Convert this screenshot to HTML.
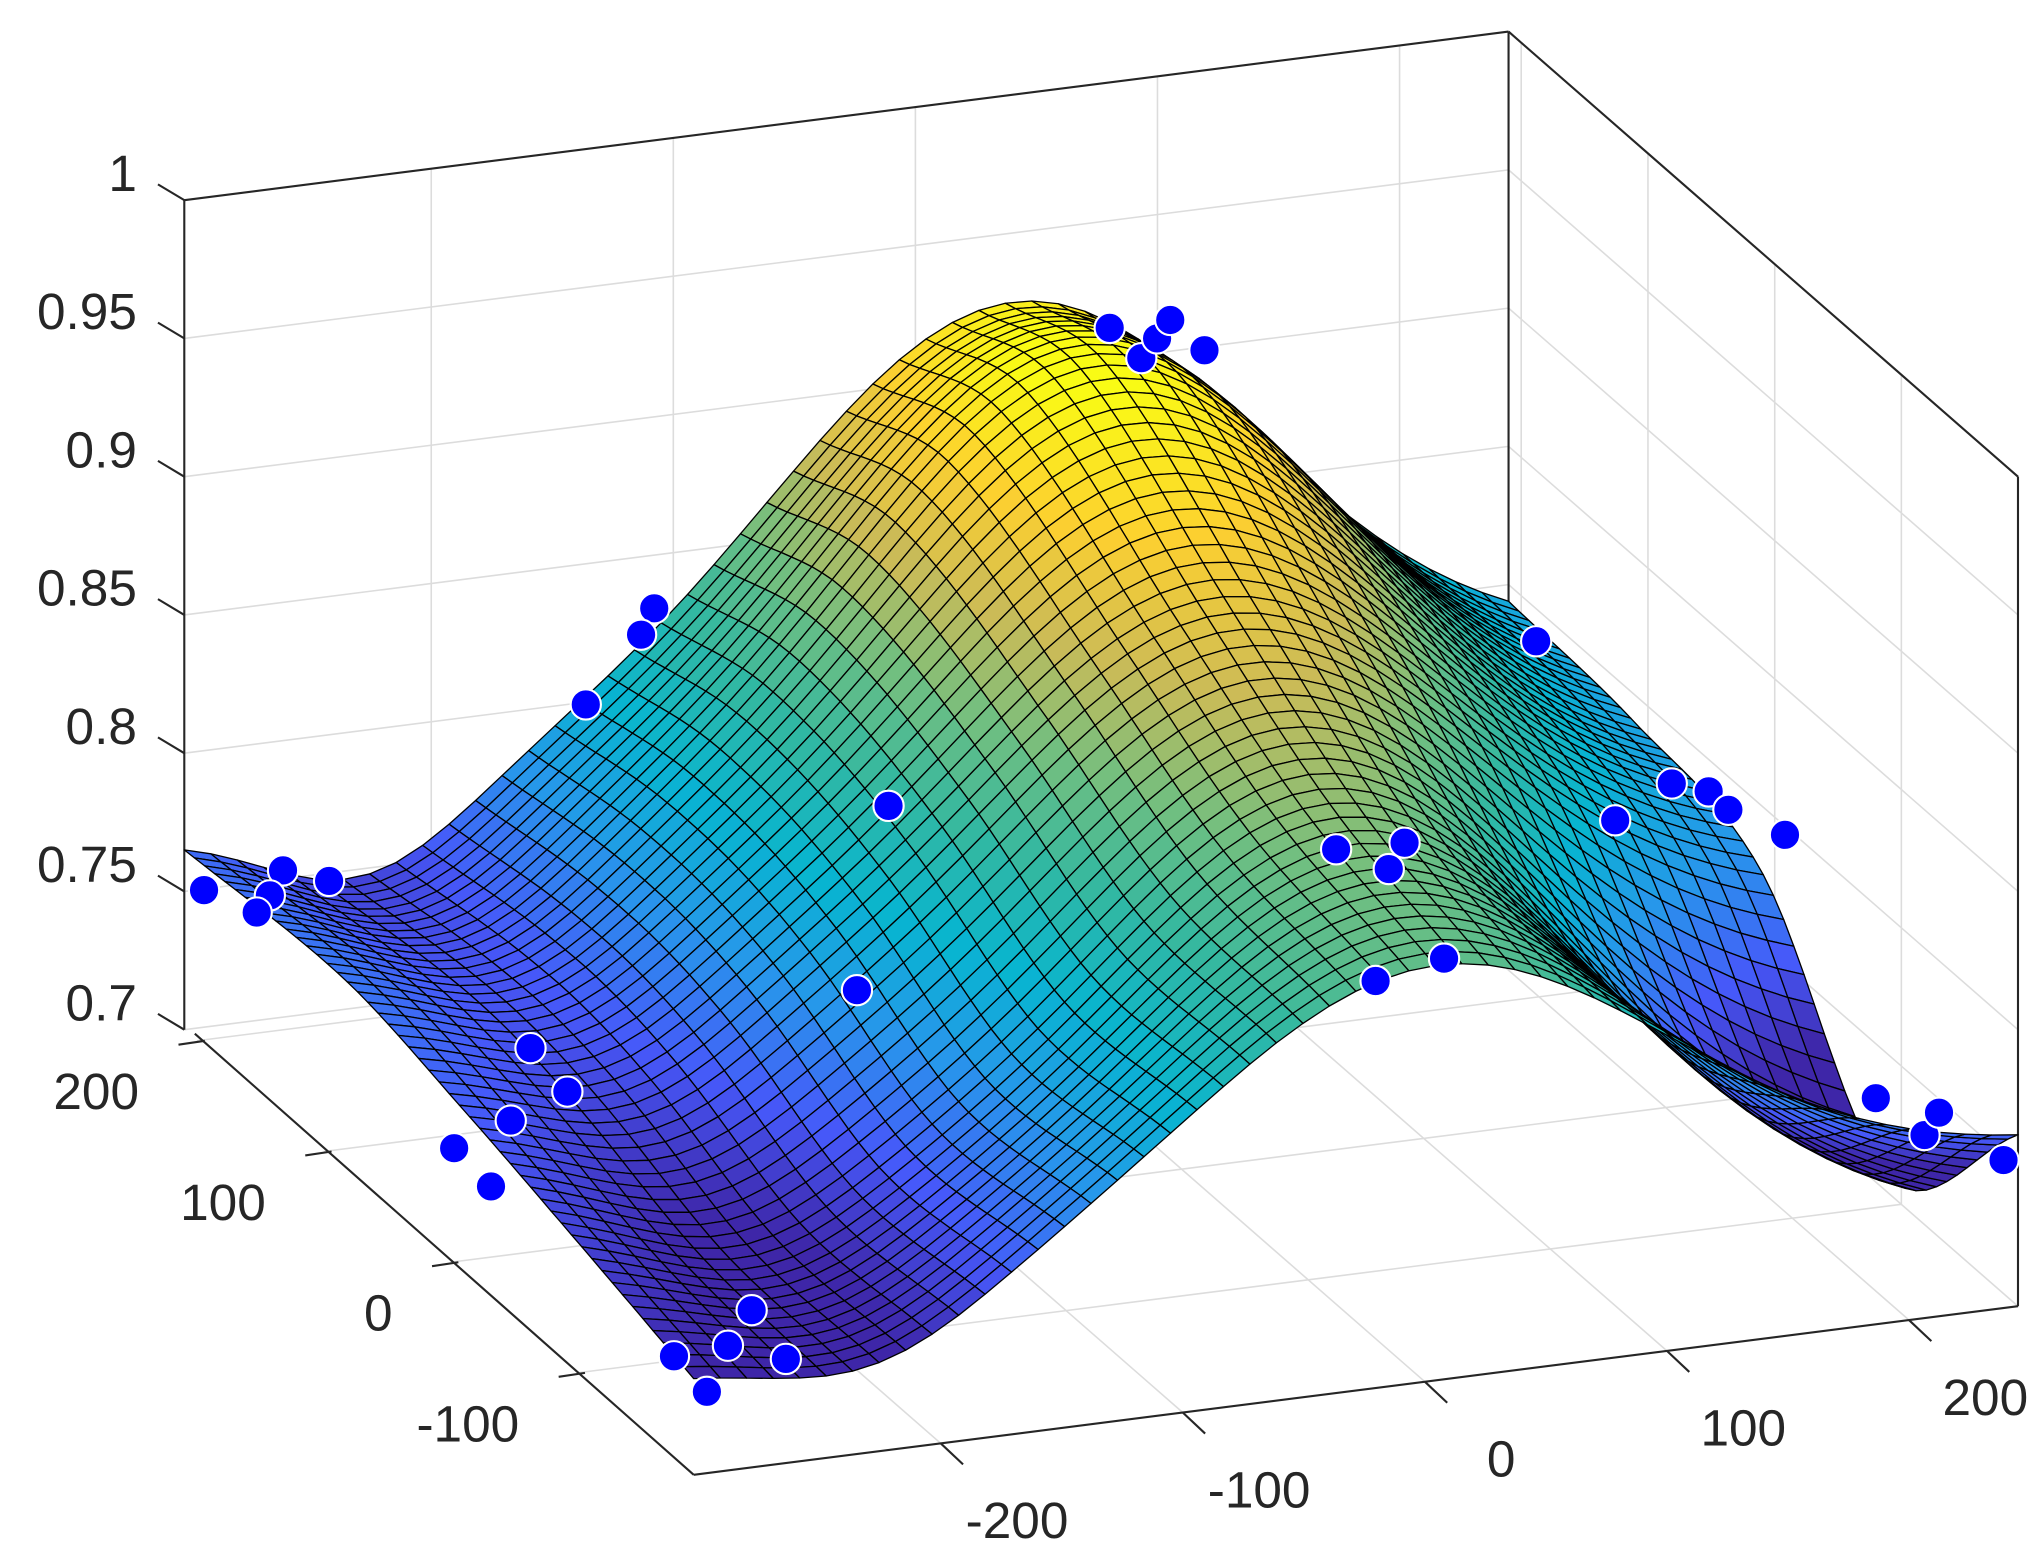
<!DOCTYPE html>
<html><head><meta charset="utf-8"><style>
html,body{margin:0;padding:0;background:#fff;}
svg{display:block;}
text{font-family:"Liberation Sans",Arial,sans-serif;fill:#262626;font-size:39px;}
</style></head><body>
<svg id="s" width="2043" height="1563" viewBox="0 0 1552 1187" preserveAspectRatio="none" xmlns="http://www.w3.org/2000/svg">
<g id="grid" stroke="#dcdcdc" stroke-width="1.2" fill="none"></g>
<g id="axes" stroke="#262626" stroke-width="1.6" fill="none"></g>
<g id="surf" stroke="#000" stroke-width="1.0" stroke-linejoin="round"></g>
<g id="dots" fill="#0000ff" stroke="#fff" stroke-width="1.6"></g>
<g id="labels"></g>
</svg>
<script>
var NS="http://www.w3.org/2000/svg";
var XMIN=-302,XR=547,YMIN=-192,YR=402;
function P(x,y,z){var a=(x-XMIN)/XR,b=(y-YMIN)/YR,c=(z-0.7)/0.3;
 return [527+1006*a-387*b,1120-128*a-338*b-630*c];}
function el(g,t,at){var e=document.createElementNS(NS,t);for(var k in at)e.setAttribute(k,at[k]);document.getElementById(g).appendChild(e);return e;}
function line(g,p,q){return el(g,"line",{x1:p[0].toFixed(1),y1:p[1].toFixed(1),x2:q[0].toFixed(1),y2:q[1].toFixed(1)});}
var XMAX=XMIN+XR,YMAX=YMIN+YR;
var xt=[-200,-100,0,100,200],yt=[-100,0,100,200],zt=[0.7,0.75,0.8,0.85,0.9,0.95,1];
xt.forEach(function(x){line("grid",P(x,YMIN,0.7),P(x,YMAX,0.7));line("grid",P(x,YMAX,0.7),P(x,YMAX,1));});
yt.forEach(function(y){line("grid",P(XMIN,y,0.7),P(XMAX,y,0.7));line("grid",P(XMAX,y,0.7),P(XMAX,y,1));});
zt.forEach(function(z){line("grid",P(XMIN,YMAX,z),P(XMAX,YMAX,z));line("grid",P(XMAX,YMAX,z),P(XMAX,YMIN,z));});
line("axes",P(XMIN,YMAX,0.7),P(XMIN,YMAX,1));
line("axes",P(XMIN,YMAX,1),P(XMAX,YMAX,1));
line("axes",P(XMAX,YMAX,1),P(XMAX,YMIN,1));
line("axes",P(XMAX,YMIN,1),P(XMAX,YMIN,0.7));
line("axes",P(XMAX,YMAX,1),P(XMAX,YMAX,0.7));
line("axes",P(XMIN,YMIN,0.7),P(XMAX,YMIN,0.7));
(function(){var p=P(XMIN,YMAX,0.7),q=P(XMIN,YMIN,0.7);line("axes",[p[0]+8,p[1]+3],q);})();
zt.forEach(function(z){var p=P(XMIN,YMAX,z);line("axes",p,[p[0]-20,p[1]-12]);
 var t=el("labels","text",{x:104,y:(p[1]-7).toFixed(1),"text-anchor":"end"});t.textContent=(z==1?"1":String(z));});
xt.forEach(function(x){var p=P(x,YMIN,0.7);line("axes",p,[p[0]+17,p[1]+16]);
 var t=el("labels","text",{x:(p[0]+58).toFixed(1),y:(p[1]+72).toFixed(1),"text-anchor":"middle"});t.textContent=String(x);});
yt.forEach(function(y){var p=P(XMIN,y,0.7);p=[p[0]+6,p[1]];line("axes",p,[p[0]-20,p[1]+3]);
 var t=el("labels","text",{x:(p[0]-50).toFixed(1),y:(p[1]+52).toFixed(1),"text-anchor":"end"});t.textContent=String(y);});
function interp(nodes,y){for(var i=0;i<nodes.length-1;i++){if(y<=nodes[i+1][0]){
 var y0=nodes[i][0],y1=nodes[i+1][0],t=(y-y0)/(y1-y0);
 var v0=nodes[i][1],v1=nodes[i+1][1];
 var m0=i>0?(nodes[i+1][1]-nodes[i-1][1])/(nodes[i+1][0]-nodes[i-1][0]):(v1-v0)/(y1-y0);
 var m1=i<nodes.length-2?(nodes[i+2][1]-nodes[i][1])/(nodes[i+2][0]-nodes[i][0]):(v1-v0)/(y1-y0);
 var h=y1-y0,t2=t*t,t3=t2*t;
 return (2*t3-3*t2+1)*v0+(t3-2*t2+t)*h*m0+(-2*t3+3*t2)*v1+(t3-t2)*h*m1;}}
 return nodes[nodes.length-1][1];}
var EMIN=[[-192,0.738],[-110,0.75],[-8,0.764],[85,0.774],[210,0.771]];
var EMAX=[[-192,0.762],[-90,0.706],[10,0.776],[110,0.79],[210,0.794]];
var CEN=[[-192,0.85],[-90,0.865],[10,0.895],[130,0.935],[210,0.925]];
var SG=100;
function G(x,x0){return Math.exp(-Math.pow(x-x0,2)/(2*SG*SG));}
function Z(x,y){var a=(x-XMIN)/XR,b=(y-YMIN)/YR;var B=interp(EMIN,y)*(1-a)+interp(EMAX,y)*a;
 var x0=5+35*b;
 var G0=G(XMIN,x0),G1=G(XMAX,x0);
 var g=G(x,x0)-(G0*(1-a)+G1*a);g=g/(1-G0*(1-a)-G1*a);
 var dip=0.028*(0.55+0.45*b)*Math.exp(-Math.pow((x+228)/42,2)/2);
 return B+(interp(CEN,y)-B)*Math.max(0,g)-dip;}
var PAR=[[0,0.2422,0.1504,0.6603],[0.111,0.2760,0.3466,0.9764],[0.238,0.1540,0.5902,0.9218],[0.365,0.0297,0.7082,0.8163],[0.492,0.1986,0.7214,0.6310],[0.619,0.4420,0.7481,0.5033],[0.746,0.7975,0.7344,0.3404],[0.873,0.9892,0.8136,0.1885],[1,0.9769,0.9839,0.0805]];
function col(t){t=Math.max(0,Math.min(1,t));for(var i=0;i<PAR.length-1;i++){if(t<=PAR[i+1][0]){var u=(t-PAR[i][0])/(PAR[i+1][0]-PAR[i][0]);
 var r=PAR[i][1]+(PAR[i+1][1]-PAR[i][1])*u,g=PAR[i][2]+(PAR[i+1][2]-PAR[i][2])*u,b=PAR[i][3]+(PAR[i+1][3]-PAR[i][3])*u;
 return "rgb("+Math.round(r*255)+","+Math.round(g*255)+","+Math.round(b*255)+")";}}return "rgb(249,251,20)";}
var N=50,M=50,zs=[];
for(var i=0;i<=N;i++){zs[i]=[];for(var j=0;j<=M;j++){zs[i][j]=Z(XMIN+XR*i/N,YMIN+YR*j/M);}}
var CMIN=0.735,CMAX=0.932;
var quads=[];
for(var i=0;i<N;i++)for(var j=0;j<M;j++){
 var xs=[XMIN+XR*i/N,XMIN+XR*(i+1)/N],ys=[YMIN+YR*j/M,YMIN+YR*(j+1)/M];
 var pts=[P(xs[0],ys[0],zs[i][j]),P(xs[1],ys[0],zs[i+1][j]),P(xs[1],ys[1],zs[i+1][j+1]),P(xs[0],ys[1],zs[i][j+1])];
 var zc=(zs[i][j]+zs[i+1][j]+zs[i+1][j+1]+zs[i][j+1])/4;
 var a=(i+0.5)/N,b=(j+0.5)/M;var depth=1120-128*a-338*b;
 quads.push([depth,pts,zc]);}
quads.sort(function(p,q){return p[0]-q[0];});
var html="";
quads.forEach(function(q){html+='<polygon points="'+q[1].map(function(p){return p[0].toFixed(1)+","+p[1].toFixed(1);}).join(" ")+'" fill="'+col((q[2]-CMIN)/(CMAX-CMIN))+'"/>';});
document.getElementById("surf").innerHTML=html;
var D=[[155,676],[215,661],[205,680],[195,693],[250,669],[403,796],[431,829],[388,851],[345,872],[373,901],[571,995],[553,1022],[597,1032],[512,1030],[537,1057],[843,249],[867,272],[879,257],[889,243],[915,266],[1015,645],[1067,640],[1055,660],[1045,745],[1097,728],[1167,487],[1227,623],[1270,595],[1298,601],[1313,615],[1356,634],[1425,834],[1462,862],[1473,845],[1522,881],[497,462],[487,482],[445,535],[675,612],[651,752]];
var dh="";D.forEach(function(d){dh+='<circle cx="'+d[0]+'" cy="'+d[1]+'" r="11.5"/>';});
document.getElementById("dots").innerHTML=dh;
</script>
</body></html>
